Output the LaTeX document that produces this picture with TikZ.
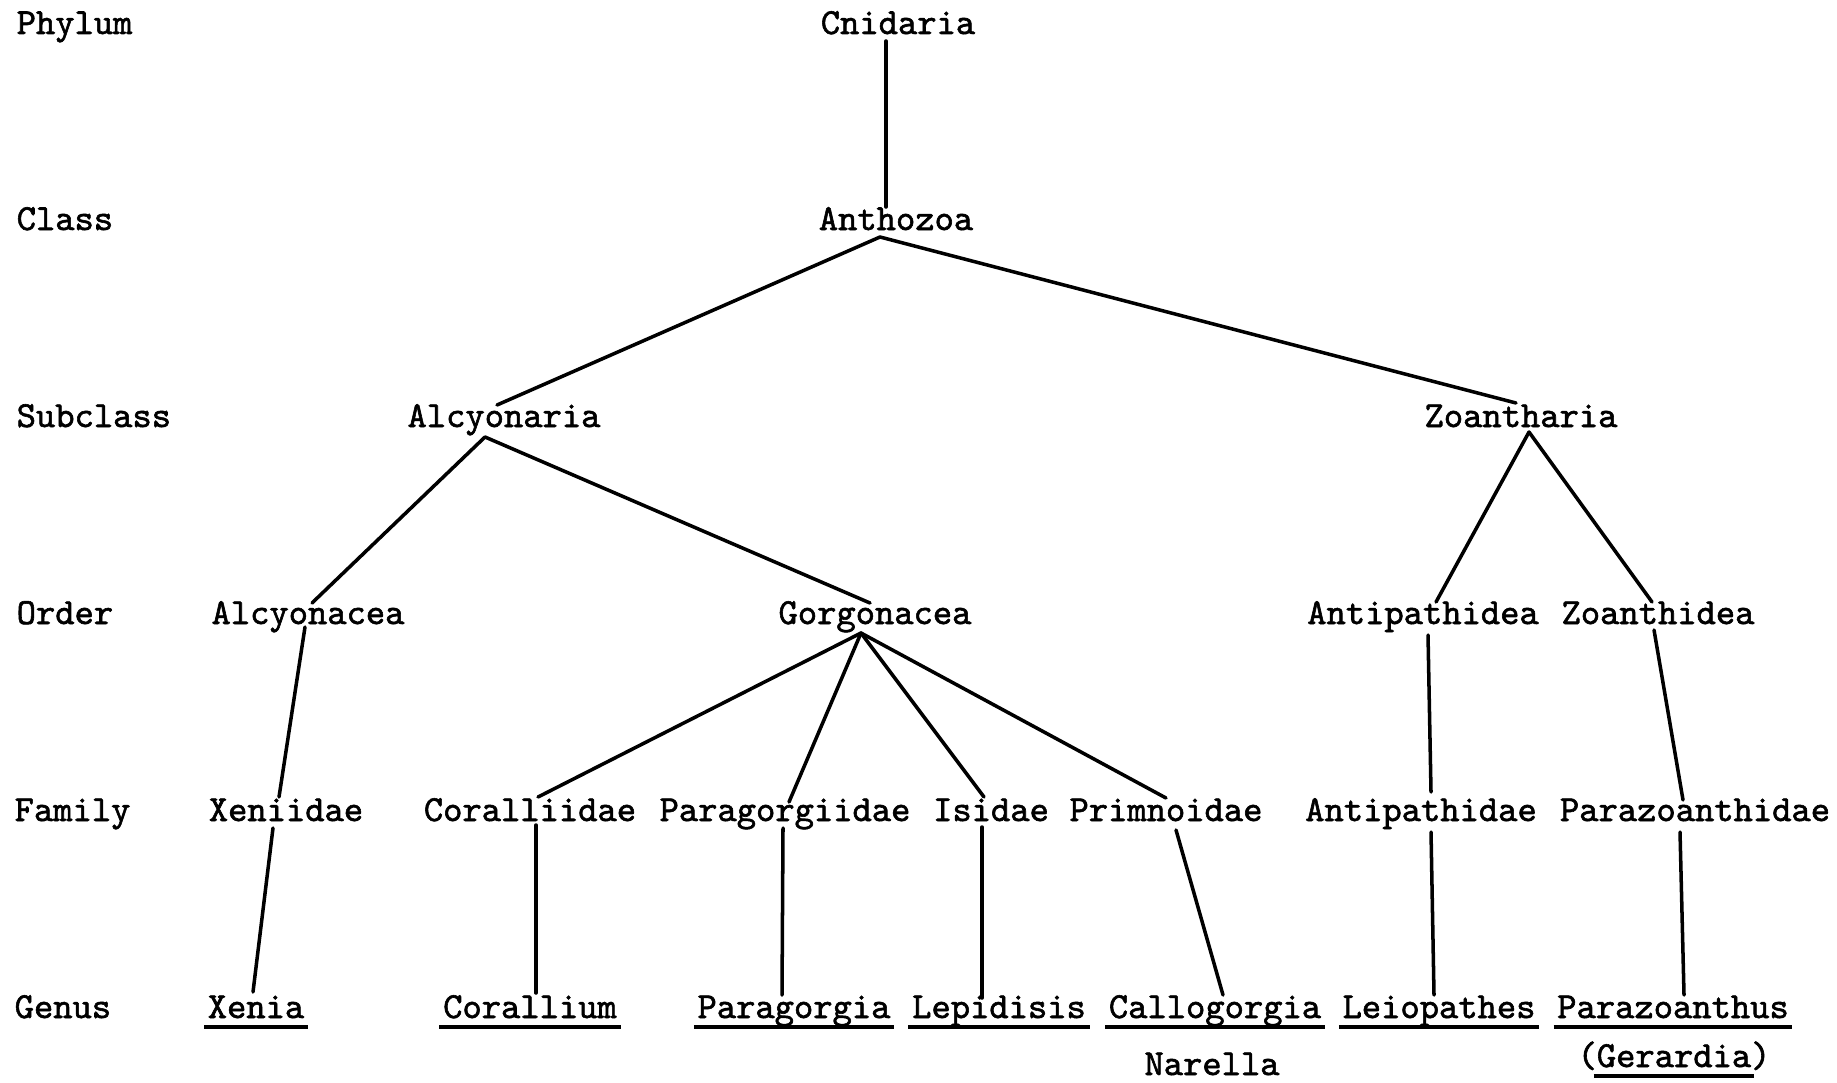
\documentclass[tikz,border=0pt]{standalone}
\usepackage{fontspec}
\setmonofont[FakeBold=1.6]{Latin Modern Mono}
\begin{document}
\begin{tikzpicture}[x=0.01cm,y=-0.01cm,
  lab/.style={anchor=base west,inner sep=0pt,font=\ttfamily\fontsize{10.45}{12}\selectfont},
  tx/.style={anchor=base,inner sep=0pt,font=\ttfamily\fontsize{10.45}{12}\selectfont},
  link/.style={line width=1pt,line cap=round},
  uline/.style={line width=1.2pt}]
\useasboundingbox[fill=white] (0,0) rectangle (1837,1082);
% rank labels
\node[lab] (lPhy) at (16,34) {Phylum};
\node[lab] (lCla) at (16,230) {Class};
\node[lab] (lSub) at (16,427) {Subclass};
\node[lab] (lOrd) at (16,624) {Order};
\node[lab] (lFam) at (14,821) {Family};
\node[lab] (lGen) at (14,1018) {Genus};
% taxa
\node[tx] (cnid) at (898,34) {Cnidaria};
\node[tx] (anth) at (896,230) {Anthozoa};
\node[tx] (alcy) at (504,427) {Alcyonaria};
\node[tx] (zoan) at (1521,427) {Zoantharia};
\node[tx] (alcn) at (308,624) {Alcyonacea};
\node[tx] (gorg) at (875,624) {Gorgonacea};
\node[tx] (antd) at (1423,624) {Antipathidea};
\node[tx] (zoad) at (1658,624) {Zoanthidea};
\node[tx] (xend) at (286,821) {Xeniidae};
\node[tx] (cord) at (530,821) {Coralliidae};
\node[tx] (parf) at (785,821) {Paragorgiidae};
\node[tx] (isid) at (991,821) {Isidae};
\node[tx] (prim) at (1166,821) {Primnoidae};
\node[tx] (antf) at (1421,821) {Antipathidae};
\node[tx] (parz) at (1695,821) {Parazoanthidae};
\node[tx] (xenia) at (256,1018) {Xenia};
\node[tx] (coral) at (530,1018) {Corallium};
\node[tx] (parg) at (794,1018) {Paragorgia};
\node[tx] (lepi) at (999,1018) {Lepidisis};
\node[tx] (callo) at (1215,1018) {Callogorgia};
\node[tx] (leio) at (1439,1018) {Leiopathes};
\node[tx] (parzg) at (1673,1018) {Parazoanthus};
\node[tx] (nare) at (1212,1075) {Narella};
\node[tx] (gera) at (1674,1067) {(Gerardia)};
% underlines
\foreach \n in {xenia,coral,parg,lepi,callo,leio,parzg}
  \draw[uline] ([shift={(-3,9)}]\n.base west) -- ([shift={(3,9)}]\n.base east);
\draw[uline] ([shift={(17,9)}]gera.base west) -- ([shift={(-17,9)}]gera.base east);
% connectors
\draw[link] ([shift={(-12,7)}]cnid.base) -- ([shift={(-10,-23)}]anth.base);
\draw[link] ([shift={(-16,7)}]anth.base) -- ([shift={(-7,-22)}]alcy.base);
\draw[link] ([shift={(-16,7)}]anth.base) -- ([shift={(-5,-24)}]zoan.base);
\draw[link] ([shift={(-19,10)}]alcy.base) -- ([shift={(4,-21)}]alcn.base);
\draw[link] ([shift={(-19,10)}]alcy.base) -- ([shift={(-5,-21)}]gorg.base);
\draw[link] ([shift={(8,5)}]zoan.base) -- ([shift={(13,-22)}]antd.base);
\draw[link] ([shift={(8,5)}]zoan.base) -- ([shift={(-6,-22)}]zoad.base);
\draw[link] ([shift={(-3,3)}]alcn.base) -- ([shift={(-7,-24)}]xend.base);
\draw[link] ([shift={(-14,9)}]gorg.base) -- ([shift={(8,-24)}]cord.base);
\draw[link] ([shift={(-14,9)}]gorg.base) -- ([shift={(4,-19)}]parf.base);
\draw[link] ([shift={(-14,9)}]gorg.base) -- ([shift={(-7,-24)}]isid.base);
\draw[link] ([shift={(-14,9)}]gorg.base) -- ([shift={(0,-23)}]prim.base);
\draw[link] ([shift={(5,11)}]antd.base) -- ([shift={(10,-29)}]antf.base);
\draw[link] ([shift={(-4,6)}]zoad.base) -- ([shift={(-12,-21)}]parz.base);
\draw[link] ([shift={(-13,7)}]xend.base) -- ([shift={(-3,-26)}]xenia.base);
\draw[link] ([shift={(6,4)}]cord.base) -- ([shift={(6,-25)}]coral.base);
\draw[link] ([shift={(-2,7)}]parf.base) -- ([shift={(-12,-23)}]parg.base);
\draw[link] ([shift={(-9,6)}]isid.base) -- ([shift={(-17,-20)}]lepi.base);
\draw[link] ([shift={(10,9)}]prim.base) -- ([shift={(8,-23)}]callo.base);
\draw[link] ([shift={(10,11)}]antf.base) -- ([shift={(-5,-23)}]leio.base);
\draw[link] ([shift={(-15,11)}]parz.base) -- ([shift={(11,-23)}]parzg.base);
\end{tikzpicture}
\end{document}
